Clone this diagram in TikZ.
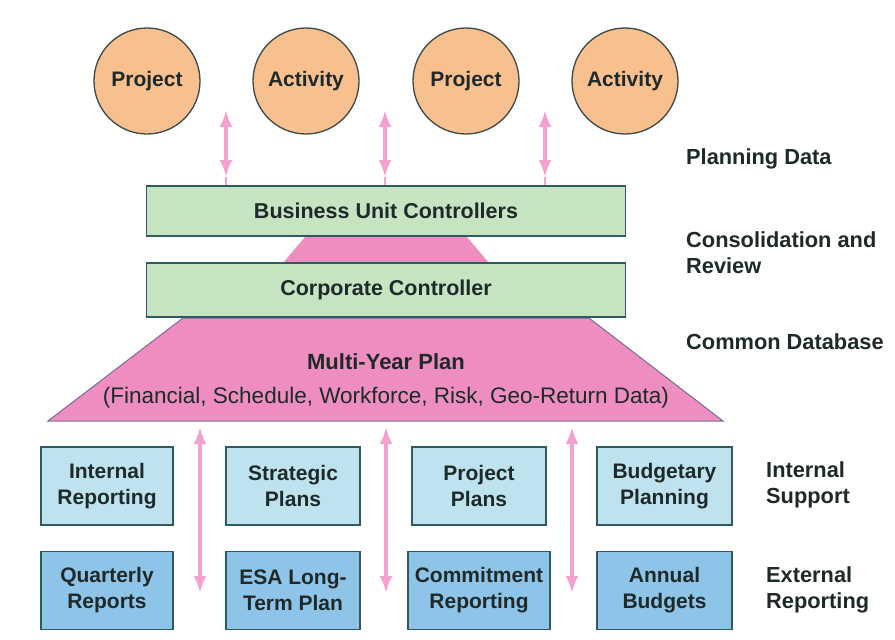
\documentclass[tikz,border=0pt]{standalone}
\usepackage{fontspec}
\setmainfont{Liberation Sans}
\usetikzlibrary{arrows.meta}
\definecolor{peach}{HTML}{F8C08E}
\definecolor{circbd}{HTML}{3A4A4A}
\definecolor{grfill}{HTML}{C6E4C2}
\definecolor{boxbd}{HTML}{2F5A60}
\definecolor{pinkfill}{HTML}{EE8EC0}
\definecolor{pinkbd}{HTML}{7A6A9A}
\definecolor{lblue}{HTML}{BFE3EE}
\definecolor{dblue}{HTML}{8EC4E8}
\definecolor{arrpink}{HTML}{F3A2CF}
\definecolor{txt}{HTML}{1E2A2A}
\begin{document}
\begin{tikzpicture}[x=1pt,y=-1pt,
  bubble/.style={draw=circbd,line width=1.3pt,fill=peach,circle,minimum size=106pt,inner sep=0pt,font=\fontsize{21}{24}\selectfont\bfseries,text=txt},
  bar/.style={draw=boxbd,line width=1.6pt,fill=grfill,minimum width=479pt,minimum height=50pt,inner sep=0pt,font=\fontsize{21.5}{24}\selectfont\bfseries,text=txt},
  sbox/.style={draw=boxbd,line width=1.4pt,minimum width=133pt,minimum height=78pt,inner sep=0pt,align=center,font=\fontsize{21}{26}\selectfont\bfseries,text=txt},
  inbox/.style={sbox,fill=lblue},
  exbox/.style={sbox,fill=dblue},
  lab/.style={anchor=west,align=left,inner sep=0pt,font=\fontsize{21.8}{26}\selectfont\bfseries,text=txt},
  parrow/.style={draw=arrpink,line width=3.5pt,{Latex[length=17pt,width=13pt]}-{Latex[length=17pt,width=13pt]}},
  pline/.style={draw=arrpink,line width=2.5pt}
]
\useasboundingbox (0,0) rectangle (895,640);
\fill[white] (0,0) rectangle (895,640);

% trapezoids
\path[fill=pinkfill] (305,237) -- (467,237) -- (489,263) -- (283,263) -- cycle;
\path[fill=pinkfill,draw=pinkbd,line width=1pt] (183,318) -- (589,318) -- (723,421) -- (48,421) -- cycle;
\node[font=\fontsize{22}{24}\selectfont\bfseries,text=txt] (myp) at (386,362) {Multi-Year Plan};
\node[font=\fontsize{22.5}{24}\selectfont,text=txt] (mypd) at (386,398) {(Financial, Schedule, Workforce, Risk, Geo-Return Data)};

% bars
\node[bar] (buc) at (386,211) {Business Unit Controllers};
\node[bar,minimum height=54pt] (cc) at (386,290) {Corporate Controller};

% circles
\node[bubble] (c1) at (147,81) {Project};
\node[bubble] (c2) at (306,81) {Activity};
\node[bubble] (c3) at (466,81) {Project};
\node[bubble] (c4) at (625,81) {Activity};

% top arrows
\foreach \x [count=\i] in {226,385,545}{
  \coordinate (ta\i) at (\x,110);
  \coordinate (tb\i) at (\x,177);
  \draw[parrow] (ta\i) -- (tb\i);
  \draw[pline] (tb\i) -- (buc.north -| tb\i);
}

% boxes
\node[inbox,minimum width=132pt] (ir) at (107,486) {Internal\\Reporting};
\node[inbox,minimum width=134pt] (sp) at (293,486) {Strategic\\Plans};
\node[inbox,minimum width=134pt] (pp) at (479,486) {Project\\Plans};
\node[inbox,minimum width=135pt] (bp) at (664.5,486) {Budgetary\\Planning};
\node[exbox,minimum width=132pt] (qr) at (107,590.5) {Quarterly\\Reports};
\node[exbox,minimum width=134pt] (esa) at (293,590.5) {ESA Long-\\Term Plan};
\node[exbox,minimum width=142pt] (cr) at (479,590.5) {Commitment\\Reporting};
\node[exbox,minimum width=135pt] (ab) at (664.5,590.5) {Annual\\Budgets};

% bottom arrows
\foreach \x [count=\i] in {200,386,572}{
  \coordinate (ba\i) at (\x,427);
  \coordinate (bb\i) at (\x,593);
  \draw[parrow] (ba\i) -- (bb\i);
}

% labels
\node[lab] (l1) at (686,159) {Planning Data};
\node[lab] (l2) at (686,253) {Consolidation and\\Review};
\node[lab] (l3) at (686,342) {Common Database};
\node[lab] (l4) at (766,485) {Internal\\Support};
\node[lab] (l5) at (766,590) {External\\Reporting};
\end{tikzpicture}
\end{document}
